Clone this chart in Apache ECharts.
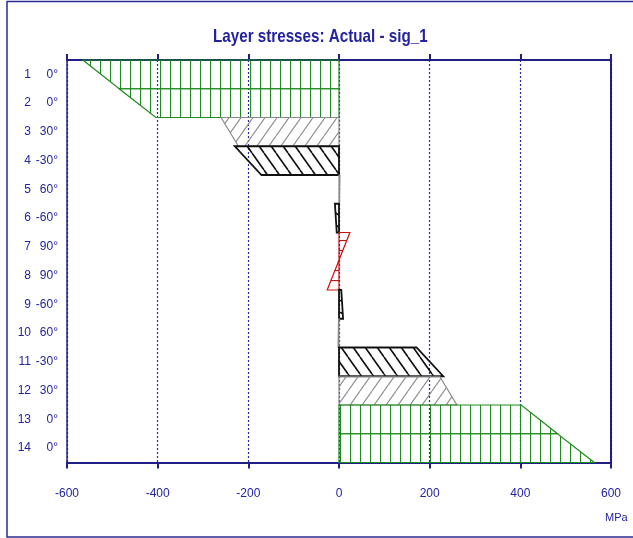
<!DOCTYPE html>
<html>
<head>
<meta charset="utf-8">
<script src="https://cdn.jsdelivr.net/npm/echarts@6/dist/echarts.min.js"></script>
<style>
  html, body { margin: 0; padding: 0; background: #ffffff; }
  #chart { width: 633px; height: 538px; }
</style>
</head>
<body>
<div id="chart"></div>
<script>
// Laminate layers, top to bottom
const layerNo = [1, 2, 3, 4, 5, 6, 7, 8, 9, 10, 11, 12, 13, 14];
const plyAngle = [0, 0, 30, -30, 60, -60, 90, 90, -60, 60, -30, 30, 0, 0];
// sig_1 (MPa) at the top and bottom face of each layer
const stressTop = [-565, -485, -260, -230, 2, -9, 24, -1, 5, -1, 171, 222, 402, 482];
const stressBottom = [-485, -404, -222, -171, 1, -5, -1, -26, 9, -2, 230, 260, 482, 563];
// stress axis ticks (MPa)
const stressTicks = [-600, -400, -200, 0, 200, 400, 600];

const NAVY = '#1f1f86';
const TEXT = '#2323a0';
const FONT = "'Liberation Sans', Arial, sans-serif";

// hatch tile for a ply angle: 0° vertical, 90° horizontal, others slanted
function hatch(angle, color, lw) {
  const c = document.createElement('canvas');
  let w = 10, h = 10;
  if (Math.abs(angle) === 30) { w = 12; h = 17; }
  if (Math.abs(angle) === 60) { w = 17; h = 12; }
  c.width = w; c.height = h;
  const ctx = c.getContext('2d');
  ctx.strokeStyle = color;
  ctx.lineWidth = lw;
  ctx.beginPath();
  if (angle === 0) {
    ctx.moveTo(0.5, 0); ctx.lineTo(0.5, h);
  } else if (angle === 90) {
    ctx.moveTo(0, 0.5); ctx.lineTo(w, 0.5);
  } else {
    for (let k = -1; k <= 1; k++) {
      if (angle > 0) { ctx.moveTo(k * w, h); ctx.lineTo(k * w + w, 0); }
      else { ctx.moveTo(k * w, 0); ctx.lineTo(k * w + w, h); }
    }
  }
  ctx.stroke();
  return { image: c, repeat: 'repeat' };
}

function plyStyle(angle) {
  if (angle === 0) return { color: '#1f8a1f', lw: 1.2, hatch: hatch(0, '#1f8a1f', 1.2) };
  if (angle === 90) return { color: '#c81010', lw: 1.2, hatch: hatch(90, '#c81010', 1.2) };
  if (angle > 0) return { color: '#8a8a8a', lw: 1.2, hatch: hatch(angle, '#8a8a8a', 1.1) };
  return { color: '#111111', lw: 1.8, hatch: hatch(angle, '#111111', 1.6) };
}

const styles = plyAngle.map(plyStyle);
const layerData = layerNo.map((n, i) => [i, stressTop[i], stressBottom[i]]);

const chart = echarts.init(document.getElementById('chart'), null, { renderer: 'canvas' });

const xBase = {
  type: 'value',
  min: stressTicks[0],
  max: stressTicks[stressTicks.length - 1],
  interval: stressTicks[1] - stressTicks[0],
  axisLine: { show: true, onZero: false, lineStyle: { color: NAVY, width: 2 } },
  axisTick: { show: true, inside: false, length: 6, lineStyle: { color: NAVY, width: 2 } }
};

chart.setOption({
  backgroundColor: '#ffffff',
  animation: false,
  graphic: [
    {
      type: 'rect',
      z: -10,
      shape: { x: 7, y: 1.5, width: 700, height: 535.5 },
      style: { fill: 'none', stroke: '#2b2b90', lineWidth: 1.5 }
    },
    {
      // condensed bold title
      type: 'text',
      x: 213,
      y: 37,
      scaleX: 0.8,
      style: {
        text: 'Layer stresses: Actual - sig_1',
        fill: TEXT,
        font: 'bold 19px ' + FONT,
        verticalAlign: 'middle'
      }
    },
    {
      type: 'text',
      x: 605,
      y: 512,
      style: { text: 'MPa', fill: TEXT, font: '11px ' + FONT }
    }
  ],
  grid: { left: 67, right: 22, top: 60, bottom: 75.5, containLabel: false },
  xAxis: [
    Object.assign({}, xBase, {
      position: 'bottom',
      axisLabel: { show: true, color: TEXT, fontFamily: FONT, fontSize: 12, margin: 25 },
      splitLine: { show: true, lineStyle: { color: '#2a2aa0', width: 1.2, type: [2, 2] } }
    }),
    Object.assign({}, xBase, {
      position: 'top',
      axisLabel: { show: false },
      splitLine: { show: false }
    })
  ],
  yAxis: [
    {
      type: 'category',
      data: layerNo.map(String),
      inverse: true,
      position: 'left',
      z: 5,
      axisLine: { show: true, onZero: false, lineStyle: { color: NAVY, width: 1.5 } },
      axisTick: { show: false },
      splitLine: { show: false },
      axisLabel: {
        margin: 9,
        formatter: (v, i) => '{n|' + layerNo[i] + '}{a|' + plyAngle[i] + '°}',
        rich: {
          n: { width: 22, align: 'right', color: TEXT, fontFamily: FONT, fontSize: 12 },
          a: { width: 27, align: 'right', color: TEXT, fontFamily: FONT, fontSize: 12 }
        }
      }
    },
    {
      type: 'category',
      data: layerNo.map(String),
      inverse: true,
      position: 'right',
      z: 5,
      axisLine: { show: true, onZero: false, lineStyle: { color: NAVY, width: 2 } },
      axisTick: { show: false },
      axisLabel: { show: false },
      splitLine: { show: false }
    }
  ],
  series: [
    {
      type: 'custom',
      xAxisIndex: 0,
      yAxisIndex: 0,
      clip: false,
      encode: { x: [1, 2], y: 0 },
      data: layerData,
      renderItem: function (params, api) {
        const i = api.value(0);
        const top = api.value(1);
        const bottom = api.value(2);
        const band = api.size([0, 1])[1];
        const zero = api.coord([0, i]);
        const y0 = zero[1] - band / 2;
        const y1 = zero[1] + band / 2;
        const xt = api.coord([top, i])[0];
        const xb = api.coord([bottom, i])[0];
        const st = styles[i];
        return {
          type: 'polygon',
          shape: { points: [[zero[0], y0], [xt, y0], [xb, y1], [zero[0], y1]] },
          style: { fill: st.hatch, stroke: st.color, lineWidth: st.lw }
        };
      }
    }
  ]
});
</script>
</body>
</html>
